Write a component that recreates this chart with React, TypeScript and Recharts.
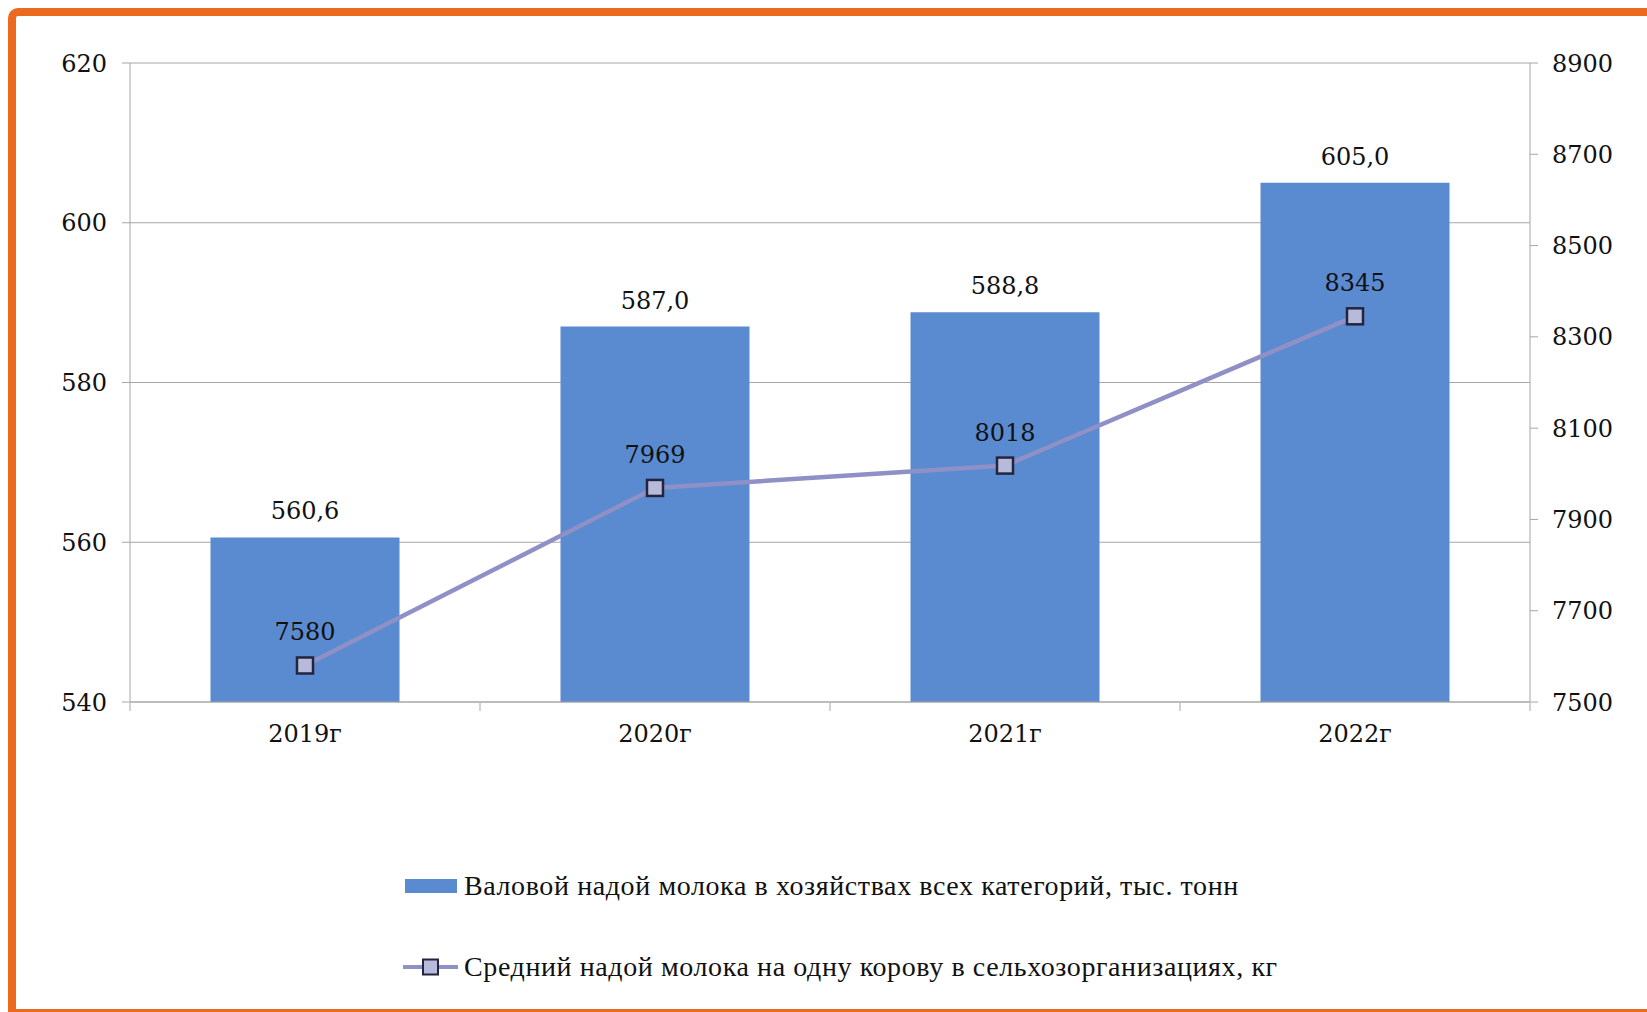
import React from "react"
import {
  ComposedChart, Bar, Line, XAxis, YAxis, CartesianGrid, Legend, LabelList,
} from "recharts"

const years = ["2019г", "2020г", "2021г", "2022г"]
const grossMilk = [560.6, 587.0, 588.8, 605.0]
const milkPerCow = [7580, 7969, 8018, 8345]
const leftTicks = [540, 560, 580, 600, 620]
const rightTicks = [7500, 7700, 7900, 8100, 8300, 8500, 8700, 8900]
const edgeTicks = [0, 1, 2, 3, 4]
const seriesNames = [
  "Валовой надой молока в хозяйствах всех категорий, тыс. тонн",
  "Средний надой молока на одну корову в сельхозорганизациях, кг",
]

// pos = middle of each category slot, only used by the hidden boundary-tick axis
const data = years.map((year, i) => ({ year, pos: i + 0.5, gross: grossMilk[i], perCow: milkPerCow[i] }))

const BAR = "#5A8AD0"
const LINE = "#8E90C6"
const GRID = "#A6A6A6"
const num = { fontFamily: "DejaVu Serif", fontSize: 24, fill: "#111" }

const SquareDot = (props: any) => {
  const { cx, cy } = props
  if (cx == null || cy == null) return null
  return <rect x={cx - 8} y={cy - 8} width={16} height={16} fill="#B8BADB" stroke="#23253D" strokeWidth={2.5} />
}

const LegendContent = () => (
  <div style={{ fontFamily: "Liberation Serif", fontSize: 28, letterSpacing: 0.6, color: "#111", whiteSpace: "nowrap" }}>
    <div style={{ display: "flex", alignItems: "center", height: 40 }}>
      <svg width={61} height={40}>
        <rect x={2} y={13} width={52} height={14} fill={BAR} />
      </svg>
      <span>{seriesNames[0]}</span>
    </div>
    <div style={{ display: "flex", alignItems: "center", height: 40, marginTop: 41 }}>
      <svg width={61} height={40}>
        <line x1={0} x2={55} y1={20} y2={20} stroke={LINE} strokeWidth={4} />
        <rect x={20} y={12.5} width={15} height={15} fill="#B8BADB" stroke="#23253D" strokeWidth={2} />
      </svg>
      <span>{seriesNames[1]}</span>
    </div>
  </div>
)

export default function App() {
  return (
    <div style={{ position: "fixed", left: 0, top: 0, width: 1647, height: 1012, overflow: "hidden", background: "#fff" }}>
      <div
        style={{
          position: "absolute", left: 8, top: 8, width: 1700, height: 1009, boxSizing: "border-box",
          border: "8px solid #EC6A20", borderTopLeftRadius: 10,
        }}
      />
      <div style={{ position: "absolute", left: 0, top: 0 }}>
        <ComposedChart
          width={1647}
          height={1012}
          data={data}
          margin={{ top: 63, right: 0, bottom: 308, left: 0 }}
          barCategoryGap="23%"
        >
          <CartesianGrid xAxisId="cat" yAxisId="left" vertical={false} stroke={GRID} />
          <XAxis
            xAxisId="cat"
            dataKey="year"
            height={1}
            tickLine={false}
            tickSize={0}
            tickMargin={23}
            axisLine={{ stroke: GRID }}
            tick={num}
          />
          <XAxis
            xAxisId="edge"
            dataKey="pos"
            type="number"
            domain={[0, 4]}
            ticks={edgeTicks}
            allowDataOverflow
            height={1}
            axisLine={false}
            tickFormatter={() => ""}
            tickSize={8}
            tickLine={{ stroke: GRID }}
          />
          <YAxis
            yAxisId="left"
            width={130}
            domain={[540, 620]}
            ticks={leftTicks}
            tickSize={8}
            tickMargin={15}
            tickLine={{ stroke: GRID }}
            axisLine={{ stroke: GRID }}
            tick={num}
          />
          <YAxis
            yAxisId="right"
            orientation="right"
            width={117}
            domain={[7500, 8900]}
            ticks={rightTicks}
            tickSize={8}
            tickMargin={14}
            tickLine={{ stroke: GRID }}
            axisLine={{ stroke: GRID }}
            tick={num}
          />
          <Bar xAxisId="cat" yAxisId="left" dataKey="gross" name={seriesNames[0]} fill={BAR} isAnimationActive={false}>
            <LabelList
              dataKey="gross"
              position="top"
              offset={18}
              formatter={(v: any) => Number(v).toFixed(1).replace(".", ",")}
              style={num}
            />
          </Bar>
          <Line
            xAxisId="cat"
            yAxisId="right"
            dataKey="perCow"
            name={seriesNames[1]}
            stroke={LINE}
            strokeWidth={4.5}
            dot={<SquareDot />}
            activeDot={false}
            isAnimationActive={false}
          >
            <LabelList dataKey="perCow" position="top" offset={25} style={num} />
          </Line>
          <Legend
            layout="vertical"
            align="center"
            verticalAlign="middle"
            content={<LegendContent />}
            wrapperStyle={{ left: 403, top: 866, width: 1000 }}
          />
        </ComposedChart>
      </div>
    </div>
  )
}
